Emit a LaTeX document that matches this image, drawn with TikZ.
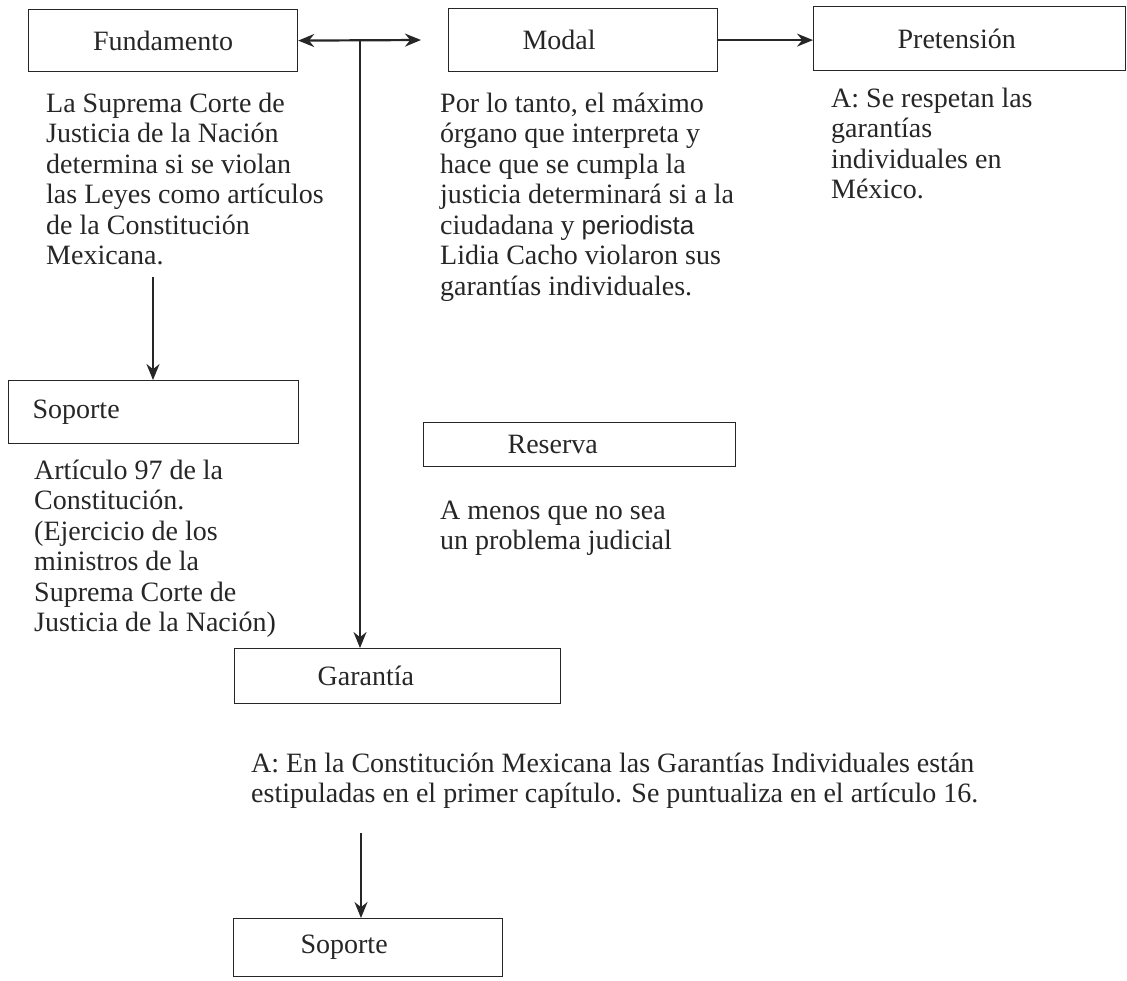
\documentclass[tikz,border=0pt]{standalone}
\usepackage{fontspec}
\setmainfont{Liberation Serif}
\newfontfamily\arial{Liberation Sans}
\usetikzlibrary{arrows.meta}

\tikzset{
  caja/.style={draw, line width=1.2pt, anchor=north west, inner xsep=0pt, inner ysep=0pt, align=left},
  texto/.style={anchor=base west, inner sep=0pt, align=left},
  punta/.tip={Stealth[length=16pt,width=13pt]},
  flecha/.style={line width=2.2pt, -punta},
}

\begin{document}
\begin{tikzpicture}[x=1pt, y=-1pt, color=black!85, font=\fontsize{28}{30.5}\selectfont]
\useasboundingbox (0,0) rectangle (1127,980);

% Fundamento
\node[caja, text width=269pt, minimum height=62pt, align=center] (fundamento) at (28,9) {Fundamento};
\node[texto] (fundamentotxt) at (46,264.5) {La Suprema Corte de\\Justicia de la Nación\\determina si se violan\\las Leyes como artículos\\de la Constitución\\Mexicana.};

% Modal
\node[caja, text width=269pt, minimum height=63pt] (modal) at (448,8) {\hspace*{74pt}Modal};
\node[texto] (modaltxt) at (440,295) {Por lo tanto, el máximo\\órgano que interpreta y\\hace que se cumpla la\\justicia determinará si a la\\ciudadana y {\arial\fontsize{26}{30.5}\selectfont periodista}\\Lidia Cacho violaron sus\\garantías individuales.};

% Pretension
\node[caja, text width=312pt, minimum height=64pt] (pretension) at (813,6) {\hspace*{84pt}Pretensión};
\node[texto] (pretensiontxt) at (831,198.5) {A: Se respetan las\\garantías\\individuales en\\México.};

% Soporte del fundamento
\node[caja, text width=290pt, minimum height=63pt] (soporteA) at (8,380) {\hspace*{24pt}Soporte};
\node[texto] (soporteAtxt) at (34,631.5) {Artículo 97 de la\\Constitución.\\(Ejercicio de los\\ministros de la\\Suprema Corte de\\Justicia de la Nación)};

% Reserva
\node[caja, text width=312pt, minimum height=44pt] (reserva) at (423,422) {\hspace*{84pt}Reserva};
\node[texto] (reservatxt) at (440,549.5) {A menos que no sea\\un problema judicial};

% Garantia
\node[caja, text width=326pt, minimum height=55pt] (garantia) at (234,648) {\hspace*{83pt}Garantía};
\node[texto] (garantiatxt) at (251,802.5) {A: En la Constitución Mexicana las Garantías Individuales están\\estipuladas en el primer capítulo. Se puntualiza en el artículo 16.};

% Soporte de la garantia
\node[caja, text width=269pt, minimum height=58pt] (soporteB) at (233,918) {\hspace*{67pt}Soporte};

% Flechas
\coordinate (dobleder) at (421,40);
\coordinate (cruce) at (360,40);
\coordinate (fundabajo) at (153,277);
\coordinate (garabajo) at (361,833);
\draw[line width=2.2pt, punta-punta] (fundamento.east) -- (dobleder);
\draw[flecha] (cruce) -- (cruce |- garantia.north);
\draw[flecha, line width=1.6pt] (modal.east) -- (modal.east -| pretension.west);
\draw[flecha] (fundabajo) -- (fundabajo |- soporteA.north);
\draw[flecha] (garabajo) -- (garabajo |- soporteB.north);
\end{tikzpicture}
\end{document}
